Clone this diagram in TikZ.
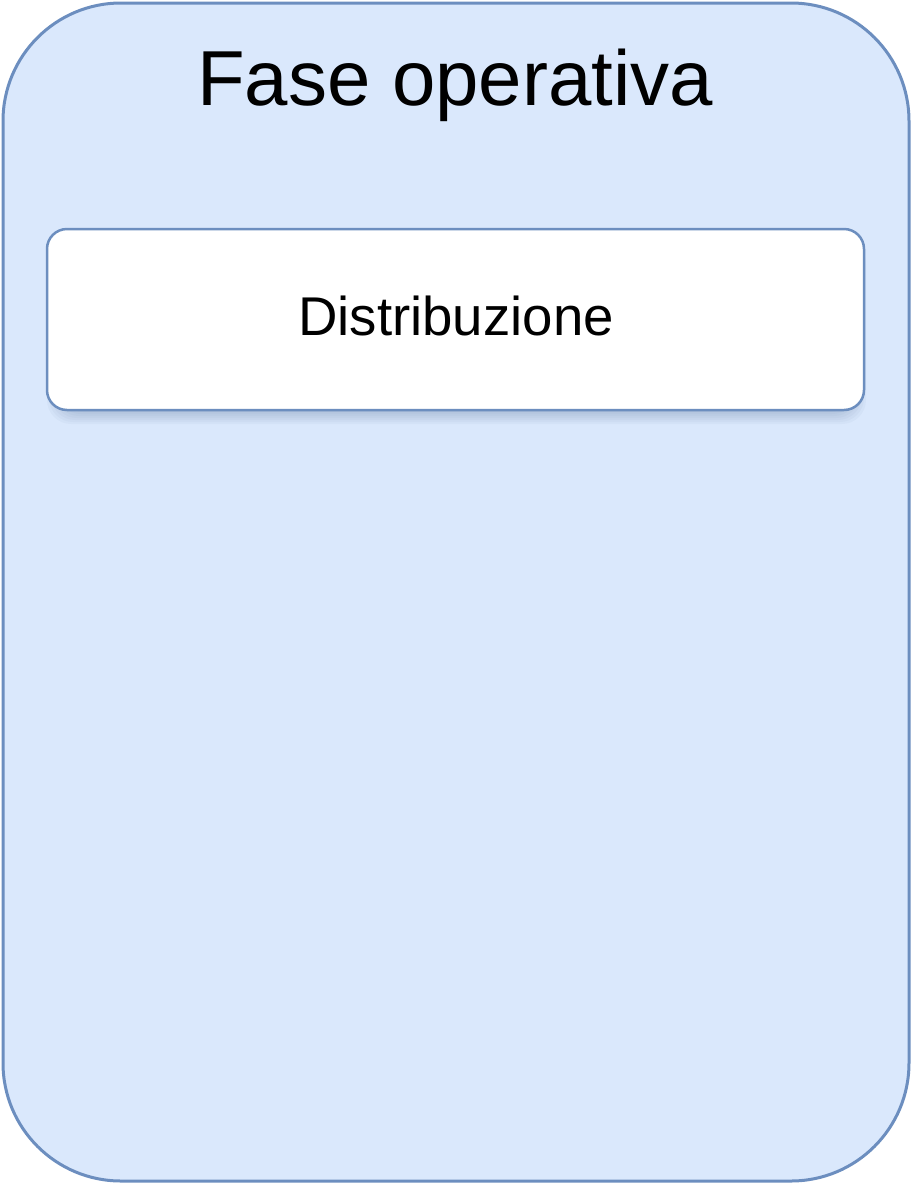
\documentclass[tikz,border=0pt]{standalone}
\usepackage{fontspec}
\setmainfont{Liberation Sans}
\definecolor{outerfill}{HTML}{DAE8FC}
\definecolor{outerline}{HTML}{6C8EBF}
\definecolor{shadowcol}{HTML}{4A6490}
\begin{document}
\begin{tikzpicture}[x=1pt,y=-1pt,
  outerbox/.style={draw=outerline,fill=outerfill,line width=3pt,rounded corners=118pt},
  innerbox/.style={draw=outerline,fill=white,line width=2.5pt,rounded corners=20pt},
  shadowlayer/.style={fill=shadowcol,fill opacity=0.045,draw=none,rounded corners=24pt},
  titletext/.style={font=\fontsize{78}{84}\selectfont,anchor=base,inner sep=0pt},
  labeltext/.style={font=\fontsize{54.6}{60}\selectfont,anchor=base,inner sep=0pt}]
\useasboundingbox (0,0) rectangle (912,1184);
\draw[outerbox] (3,3) rectangle (909,1181);
\node[titletext] (title) at (455,105) {Fase operativa};
\foreach \s in {0,2,...,12}{
  \fill[shadowlayer] (47+\s,240+\s*0.3) rectangle (866-\s,424-\s);
}
\draw[innerbox] (47,229) rectangle (864,410);
\coordinate (boxc) at (456,335);
\node[labeltext] (dist) at (boxc) {Distribuzione};
\end{tikzpicture}
\end{document}
